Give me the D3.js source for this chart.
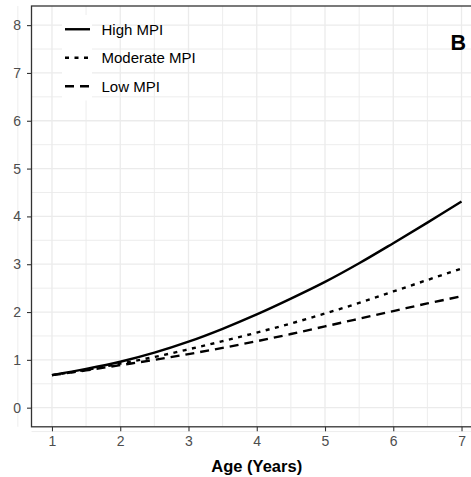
<!DOCTYPE html>
<html>
<head>
<meta charset="utf-8">
<script src="https://cdn.jsdelivr.net/npm/d3@7"></script>
<style>
  html, body { margin: 0; padding: 0; background: #fff; }
  svg { display: block; font-family: "Liberation Sans", Arial, sans-serif; }
</style>
</head>
<body>
<script>
// ---- data ----
const ages = [1, 1.5, 2, 2.5, 3, 3.5, 4, 4.5, 5, 5.5, 6, 6.5, 7];
const highMPI = [0.68, 0.81, 0.96, 1.15, 1.38, 1.65, 1.95, 2.28, 2.63, 3.02, 3.44, 3.87, 4.31];
const moderateMPI = [0.68, 0.79, 0.92, 1.06, 1.22, 1.39, 1.57, 1.76, 1.97, 2.19, 2.43, 2.67, 2.91];
const lowMPI = [0.68, 0.78, 0.89, 1.00, 1.12, 1.25, 1.39, 1.54, 1.70, 1.86, 2.02, 2.18, 2.33];
const seriesNames = ["High MPI", "Moderate MPI", "Low MPI"];
const xTicks = [1, 2, 3, 4, 5, 6, 7];
const yTicks = [0, 1, 2, 3, 4, 5, 6, 7, 8];
const xLabel = "Age (Years)";
const panelTag = "B";

const W = 471, H = 477;
const svg = d3.select("body").append("svg").attr("width", W).attr("height", H);

const x = d3.scaleLinear().domain([0.7, 7.3]).range([31.5, 482]);
const y = d3.scaleLinear().domain([-0.4, 8.4]).range([426.8, 6]);

const gridColor = "#EBEBEB";
const xMinor = d3.range(0.5, 7.5, 1);
const yMinor = d3.range(-0.5, 8.5, 1);
const grid = svg.append("g");
grid.selectAll(".xm").data(xMinor).join("line")
  .attr("x1", d => x(d)).attr("x2", d => x(d)).attr("y1", y.range()[1]).attr("y2", y.range()[0])
  .attr("stroke", gridColor).attr("stroke-width", 0.9);
grid.selectAll(".ym").data(yMinor).join("line")
  .attr("y1", d => y(d)).attr("y2", d => y(d)).attr("x1", x.range()[0]).attr("x2", x.range()[1])
  .attr("stroke", gridColor).attr("stroke-width", 0.9);
grid.selectAll(".xM").data(xTicks).join("line")
  .attr("x1", d => x(d)).attr("x2", d => x(d)).attr("y1", y.range()[1]).attr("y2", y.range()[0])
  .attr("stroke", gridColor).attr("stroke-width", 1.3);
grid.selectAll(".yM").data(yTicks).join("line")
  .attr("y1", d => y(d)).attr("y2", d => y(d)).attr("x1", x.range()[0]).attr("x2", x.range()[1])
  .attr("stroke", gridColor).attr("stroke-width", 1.3);

// legend key backgrounds (white boxes covering grid)
const legX = 62, legY = 15, keyH = 28.5, keyW = 30;
svg.append("rect").attr("x", legX).attr("y", legY).attr("width", keyW).attr("height", keyH * 3)
  .attr("fill", "#fff");

// lines
const dashes = [null, "4,5.5", "9,6"];
const series = [highMPI, moderateMPI, lowMPI];
const line = d3.line().x(d => x(d[0])).y(d => y(d[1])).curve(d3.curveCatmullRom.alpha(0.5));
series.forEach((vals, i) => {
  svg.append("path")
    .attr("d", line(ages.map((a, j) => [a, vals[j]])))
    .attr("fill", "none").attr("stroke", "#000").attr("stroke-width", 2.4)
    .attr("stroke-dasharray", dashes[i]);
});

// panel border
svg.append("rect").attr("x", x.range()[0]).attr("y", y.range()[1])
  .attr("width", x.range()[1] - x.range()[0]).attr("height", y.range()[0] - y.range()[1])
  .attr("fill", "none").attr("stroke", "#333").attr("stroke-width", 1.3);

// axes
const yAxis = d3.axisLeft(y).tickValues(yTicks).tickFormat(d3.format("d")).tickSize(4.5).tickPadding(6);
const gy = svg.append("g").attr("transform", `translate(${x.range()[0]},0)`).call(yAxis);
gy.select(".domain").remove();
gy.selectAll("line").attr("stroke", "#333").attr("stroke-width", 1.1);
gy.selectAll("text").attr("fill", "#4D4D4D").style("font-size", "14px");

const xAxis = d3.axisBottom(x).tickValues(xTicks).tickFormat(d3.format("d")).tickSize(4.5).tickPadding(5);
const gx = svg.append("g").attr("transform", `translate(0,${y.range()[0]})`).call(xAxis);
gx.select(".domain").remove();
gx.selectAll("line").attr("stroke", "#333").attr("stroke-width", 1.1);
gx.selectAll("text").attr("fill", "#4D4D4D").style("font-size", "14px");

// axis title
svg.append("text").attr("x", x(4)).attr("y", 472).attr("text-anchor", "middle")
  .style("font-size", "16.5px").style("font-weight", "bold").attr("fill", "#000").text(xLabel);

// legend
seriesNames.forEach((name, i) => {
  const cy = legY + keyH * i + keyH / 2;
  svg.append("line").attr("x1", legX + 3).attr("x2", legX + 28).attr("y1", cy).attr("y2", cy)
    .attr("stroke", "#000").attr("stroke-width", 2.4).attr("stroke-dasharray", dashes[i]);
  svg.append("text").attr("x", 101.5).attr("y", cy).attr("dy", "0.36em")
    .style("font-size", "15px").attr("fill", "#000").text(name);
});

// panel tag
svg.append("text").attr("x", 466).attr("y", 49.5).attr("text-anchor", "end")
  .style("font-size", "21.5px").style("font-weight", "bold").attr("fill", "#000").text(panelTag);
</script>
</body>
</html>
